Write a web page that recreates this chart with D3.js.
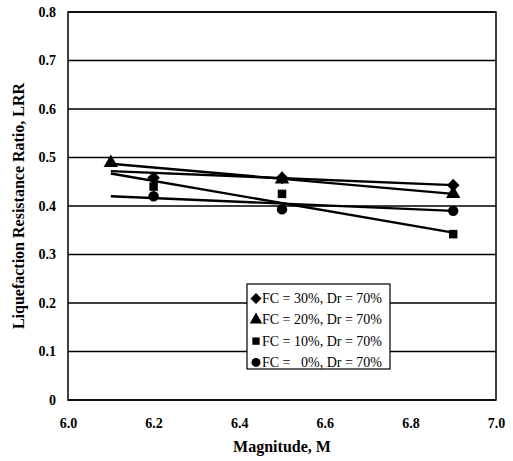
<!DOCTYPE html>
<html>
<head>
<meta charset="utf-8">
<script src="https://d3js.org/d3.v7.min.js"></script>
<style>
  body { margin: 0; background: #fff; }
  text { font-family: "Liberation Serif", "Times New Roman", serif; fill: #000; }
</style>
</head>
<body>
<script>
// values
var labels = ["FC = 30%, Dr = 70%", "FC = 20%, Dr = 70%", "FC = 10%, Dr = 70%", "FC =   0%, Dr = 70%"];
var xFC30 = [6.2, 6.5, 6.9], yFC30 = [0.458, 0.458, 0.443];
var xFC20 = [6.1, 6.5, 6.9], yFC20 = [0.489, 0.455, 0.425];
var xFC10 = [6.2, 6.5, 6.9], yFC10 = [0.44, 0.425, 0.342];
var xFC0  = [6.2, 6.5, 6.9], yFC0  = [0.42, 0.393, 0.39];
// trend lines, from M 6.1 to 6.9
var trendX = [6.1, 6.9];
var trendY = [[0.472, 0.443], [0.487, 0.425], [0.467, 0.345], [0.42, 0.39]];
var xTicks = [6.0, 6.2, 6.4, 6.6, 6.8, 7.0];
var yTicks = [0, 0.1, 0.2, 0.3, 0.4, 0.5, 0.6, 0.7, 0.8];

var series = [[xFC30, yFC30], [xFC20, yFC20], [xFC10, yFC10], [xFC0, yFC0]];

// wide diamond (a square turned 45deg), like the excel marker
var wideDiamond = {
  draw: function(ctx, size) {
    var r = Math.sqrt(size / 2);
    ctx.moveTo(0, -r); ctx.lineTo(r, 0); ctx.lineTo(0, r); ctx.lineTo(-r, 0); ctx.closePath();
  }
};
var shapes = [wideDiamond, d3.symbolTriangle, d3.symbolSquare, d3.symbolCircle];
var sizes = [80, 90, 72, 85];

var w = 513, h = 461;
var m = {left: 68, right: 17, top: 12, bottom: 61};

var svg = d3.select("body").append("svg")
  .attr("width", w).attr("height", h);

var x = d3.scaleLinear().domain([6.0, 7.0]).range([m.left, w - m.right]);
var y = d3.scaleLinear().domain([0, 0.8]).range([h - m.bottom, m.top]);

// grid
svg.append("g").selectAll("line").data(yTicks).join("line")
  .attr("x1", m.left).attr("x2", w - m.right)
  .attr("y1", d => y(d)).attr("y2", d => y(d))
  .attr("stroke", "#000").attr("stroke-width", 1.3);

// frame
svg.append("rect")
  .attr("x", m.left).attr("y", m.top)
  .attr("width", w - m.left - m.right).attr("height", h - m.top - m.bottom)
  .attr("fill", "none").attr("stroke", "#000").attr("stroke-width", 1.5);

// axes
var xAxis = svg.append("g")
  .attr("transform", "translate(0," + (h - m.bottom) + ")")
  .call(d3.axisBottom(x).tickValues(xTicks).tickFormat(d3.format(".1f")).tickSize(0).tickPadding(18));
var yAxis = svg.append("g")
  .attr("transform", "translate(" + m.left + ",0)")
  .call(d3.axisLeft(y).tickValues(yTicks).tickFormat(d => d === 0 ? "0" : d3.format(".1f")(d)).tickSize(0).tickPadding(12));
[xAxis, yAxis].forEach(a => {
  a.select(".domain").remove();
  a.selectAll("text").style("font-family", "Liberation Serif").style("font-size", "14px").style("font-weight", "bold");
});

// trend lines
svg.append("g").selectAll("line").data(trendY).join("line")
  .attr("x1", x(trendX[0])).attr("x2", x(trendX[1]))
  .attr("y1", d => y(d[0])).attr("y2", d => y(d[1]))
  .attr("stroke", "#000").attr("stroke-width", 2.4);

// markers
series.forEach(function(s, i) {
  svg.append("g").selectAll("path").data(s[0]).join("path")
    .attr("transform", (d, j) => "translate(" + x(d) + "," + y(s[1][j]) + ")")
    .attr("d", d3.symbol().type(shapes[i]).size(sizes[i])())
    .attr("fill", "#000");
});

// titles
svg.append("text")
  .attr("x", (m.left + w - m.right) / 2).attr("y", 452)
  .attr("text-anchor", "middle")
  .style("font-size", "16px").style("font-weight", "bold")
  .text("Magnitude, M");
svg.append("text")
  .attr("transform", "translate(24," + (m.top + h - m.bottom) / 2 + ") rotate(-90)")
  .attr("text-anchor", "middle")
  .style("font-size", "16px").style("font-weight", "bold")
  .text("Liquefaction Resistance Ratio, LRR");

// legend
var lg = svg.append("g").attr("transform", "translate(247,284)");
lg.append("rect").attr("width", 143).attr("height", 85)
  .attr("fill", "#fff").attr("stroke", "#000").attr("stroke-width", 1.2);
labels.forEach(function(t, i) {
  var yy = 14.5 + i * 21.3;
  lg.append("path")
    .attr("transform", "translate(9," + yy + ")")
    .attr("d", d3.symbol().type(shapes[i]).size(sizes[i] * 0.75)())
    .attr("fill", "#000");
  lg.append("text").attr("x", 15).attr("y", yy + 4.5)
    .style("font-size", "14px")
    .attr("xml:space", "preserve")
    .text(t);
});
</script>
</body>
</html>
